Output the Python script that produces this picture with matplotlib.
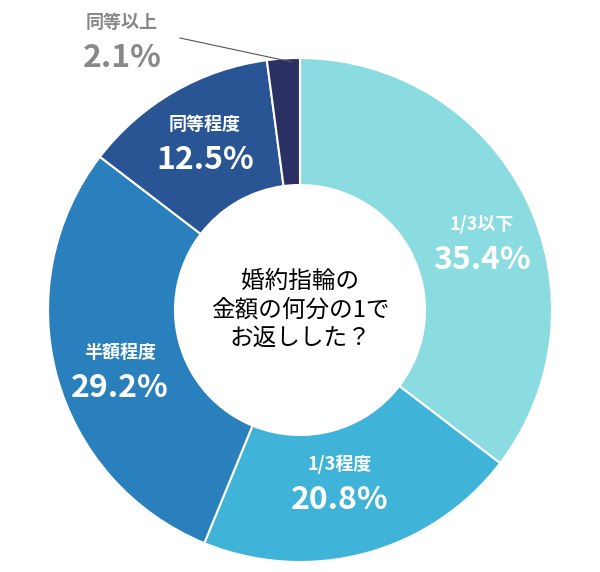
import matplotlib
matplotlib.use("Agg")
import matplotlib.pyplot as plt

plt.rcParams['font.family'] = ['Noto Sans CJK JP', 'DejaVu Sans']

labels = ["1/3以下", "1/3程度", "半額程度", "同等程度", "同等以上"]
values = [35.4, 20.8, 29.2, 12.5, 2.1]
colors = ["#8adce0", "#40b4d8", "#2a80bc", "#2a5594", "#2b2f62"]

fig = plt.figure(figsize=(6, 5.72), dpi=100)
ax = fig.add_axes([0, 0, 1, 1])

ax.pie(values, colors=colors, startangle=90, counterclock=False,
       center=(300, 262), radius=252,
       wedgeprops=dict(width=127, edgecolor='white', linewidth=1.5))

# pie resets the limits, so set them afterwards
ax.set_xlim(0, 600)
ax.set_ylim(0, 572)
ax.set_aspect('equal')
ax.axis('off')

# label positions (pixel coords, y from bottom)
pos = [(482, 330), (340, 90), (120, 202), (205, 430)]
for (x, y), lab, v in zip(pos, labels[:4], values[:4]):
    ax.text(x, y + 18, lab, color='white', fontsize=13, fontweight='bold',
            ha='center', va='center')
    ax.text(x, y - 18, f"{v}%", color='white', fontsize=23, fontweight='bold',
            ha='center', va='center')

ax.text(122, 550, labels[4], color='#888888', fontsize=13, fontweight='bold',
        ha='center', va='center')
ax.text(122, 514, f"{values[4]}%", color='#888888', fontsize=23, fontweight='bold',
        ha='center', va='center')
ax.plot([180, 292], [534, 510], color='#555555', linewidth=0.8)

ax.text(300, 262, "婚約指輪の\n金額の何分の1で\nお返しした？", color='black',
        fontsize=17, ha='center', va='center', linespacing=1.3)

fig.savefig("out.png", dpi=100)
